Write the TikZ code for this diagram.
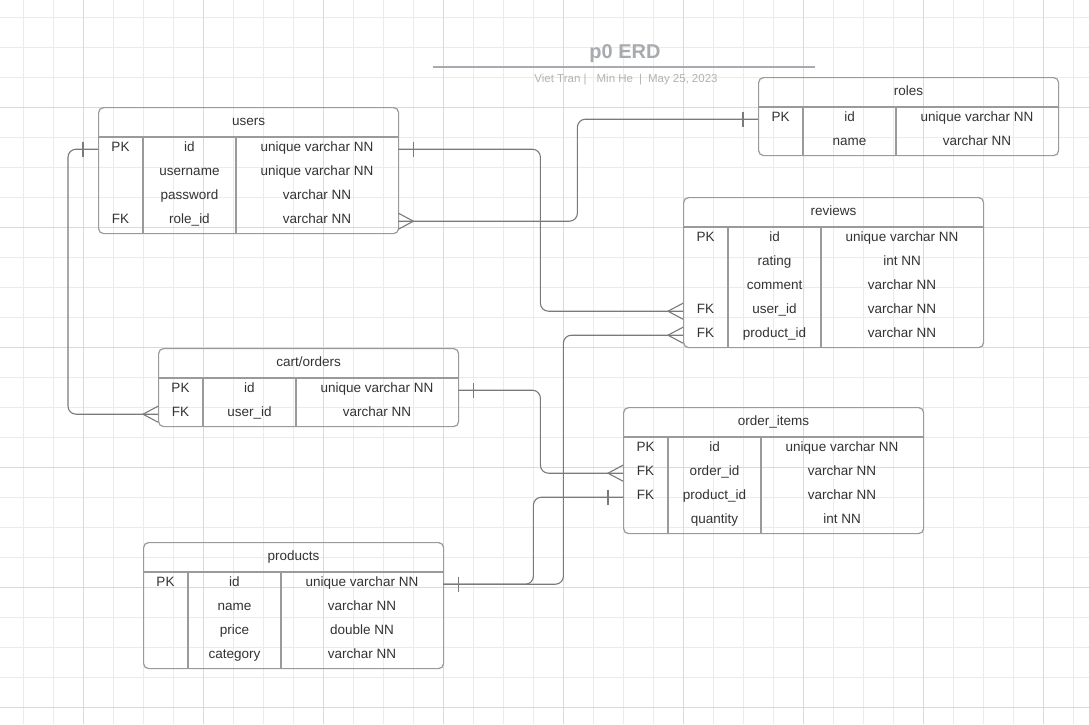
\documentclass[tikz,border=0pt]{standalone}
\usepackage{fontspec}
\setmainfont{Liberation Sans}
\usetikzlibrary{calc}

\definecolor{gridminor}{HTML}{EBEBEB}
\definecolor{gridmajor}{HTML}{DADADA}
\definecolor{tblline}{HTML}{9A9A9A}
\definecolor{relline}{HTML}{7A7A7A}
\definecolor{txt}{HTML}{333333}
\definecolor{titlegray}{HTML}{A7AAAE}
\definecolor{subgray}{HTML}{B3B3B3}

\tikzset{
  tablebox/.style={draw=tblline, line width=1.2pt, rounded corners=5pt,
    minimum width=300pt, inner sep=0pt, anchor=north west},
  tblsep/.style={draw=tblline, line width=1.2pt},
  rowbox/.style={minimum width=300pt, minimum height=24pt, inner sep=0pt,
    anchor=north west},
  celltext/.style={font=\fontsize{13.5}{16}\selectfont, text=txt, inner sep=0pt,
    text height=9.7pt, text depth=2.8pt},
  rel/.style={draw=relline, line width=1.1pt, rounded corners=8pt},
  relmark/.style={draw=relline, line width=1.1pt},
}

% table frame: name, left, top, title, number of rows
\newcommand\erdtable[5]{%
  \node[tablebox, minimum height={30+24*#5}] (#1) at (#2,#3) {};
  \node[celltext] (#1-title) at ([yshift=-15pt]#1.north) {#4};
  \draw[tblsep] ([yshift=-30pt]#1.north west) -- ([yshift=-30pt]#1.north east);
  \draw[tblsep] ([xshift=45pt,yshift=-30pt]#1.north west) -- ([xshift=45pt]#1.south west);
  \draw[tblsep] ([xshift=138pt,yshift=-30pt]#1.north west) -- ([xshift=138pt]#1.south west);
}
% table row: table, index, key, field, type
\newcommand\erdrow[5]{%
  \node[rowbox] (#1-#2) at ([yshift={-30-24*(#2-1)}]#1.north west) {};
  \node[celltext] (#1-#2-k) at ([xshift=22.5pt,yshift=0.7pt]#1-#2.west) {#3};
  \node[celltext] (#1-#2-f) at ([xshift=91.5pt,yshift=0.7pt]#1-#2.west) {#4};
  \node[celltext] (#1-#2-t) at ([xshift=219pt,yshift=0.7pt]#1-#2.west) {#5};
}
% "many" end: anchor, offset of the apex
\newcommand\crowfoot[2]{%
  \draw[relmark] ([yshift=8pt]#1) -- ([xshift=#2]#1) -- ([yshift=-8pt]#1);
}
% "one" end: anchor, offset of the bar
\newcommand\onebar[2]{%
  \draw[relmark] ([xshift=#2,yshift=7.5pt]#1) -- ([xshift=#2,yshift=-7.5pt]#1);
}

\begin{document}
\begin{tikzpicture}[x=1pt,y=-1pt]
  \useasboundingbox (0,0) rectangle (1089,724);
  \fill[white] (0,0) rectangle (1089,724);

  % background grid
  \foreach \x in {23,53,...,1073} \draw[gridminor, line width=0.8pt] (\x,0) -- (\x,724);
  \foreach \y in {17,47,...,707} \draw[gridminor, line width=0.8pt] (0,\y) -- (1089,\y);
  \foreach \x in {83,203,...,1043} \draw[gridmajor, line width=0.8pt] (\x,0) -- (\x,724);
  \foreach \y in {107,227,...,707} \draw[gridmajor, line width=0.8pt] (0,\y) -- (1089,\y);

  % title block
  \node[font=\bfseries\fontsize{20}{24}\selectfont, text=titlegray, inner sep=0pt] (title) at (625,54) {p0 ERD};
  \coordinate (rule-l) at (433,67);
  \coordinate (rule-r) at (815,67);
  \draw[titlegray, line width=1.5pt] (rule-l) -- (rule-r);
  \node[font=\fontsize{11.5}{13}\selectfont, text=subgray, inner sep=0pt] (subtitle) at (626,80)
    {Viet Tran |\hspace{10pt}Min He\hspace{6pt}|\hspace{6pt}May 25,\hspace{3pt}2023};

  % tables
  \erdtable{users}{98}{107}{users}{4}
  \erdrow{users}{1}{PK}{id}{unique varchar NN}
  \erdrow{users}{2}{}{username}{unique varchar NN}
  \erdrow{users}{3}{}{password}{varchar NN}
  \erdrow{users}{4}{FK}{role\_id}{varchar NN}

  \erdtable{roles}{758}{77}{roles}{2}
  \erdrow{roles}{1}{PK}{id}{unique varchar NN}
  \erdrow{roles}{2}{}{name}{varchar NN}

  \erdtable{reviews}{683}{197}{reviews}{5}
  \erdrow{reviews}{1}{PK}{id}{unique varchar NN}
  \erdrow{reviews}{2}{}{rating}{int NN}
  \erdrow{reviews}{3}{}{comment}{varchar NN}
  \erdrow{reviews}{4}{FK}{user\_id}{varchar NN}
  \erdrow{reviews}{5}{FK}{product\_id}{varchar NN}

  \erdtable{cart}{158}{348}{cart/orders}{2}
  \erdrow{cart}{1}{PK}{id}{unique varchar NN}
  \erdrow{cart}{2}{FK}{user\_id}{varchar NN}

  \erdtable{items}{623}{407}{order\_items}{4}
  \erdrow{items}{1}{PK}{id}{unique varchar NN}
  \erdrow{items}{2}{FK}{order\_id}{varchar NN}
  \erdrow{items}{3}{FK}{product\_id}{varchar NN}
  \erdrow{items}{4}{}{quantity}{int NN}

  \erdtable{products}{143}{542}{products}{4}
  \erdrow{products}{1}{PK}{id}{unique varchar NN}
  \erdrow{products}{2}{}{name}{varchar NN}
  \erdrow{products}{3}{}{price}{double NN}
  \erdrow{products}{4}{}{category}{varchar NN}

  % relationships
  \draw[rel] (users-1.east) -- ++(142,0) |- (reviews-4.west);
  \onebar{users-1.east}{15pt}
  \crowfoot{reviews-4.west}{-15pt}

  \draw[rel] (users-4.east) -- ++(179,0) |- (roles-1.west);
  \crowfoot{users-4.east}{15pt}
  \onebar{roles-1.west}{-15pt}

  \draw[rel] (users-1.west) -- ++(-30,0) |- (cart-2.west);
  \onebar{users-1.west}{-15pt}
  \crowfoot{cart-2.west}{-15pt}

  \draw[rel] (cart-1.east) -- ++(82,0) |- (items-2.west);
  \onebar{cart-1.east}{15pt}
  \crowfoot{items-2.west}{-15pt}

  \draw[rel] (products-1.east) -- ++(120,0) |- (reviews-5.west);
  \draw[rel] (products-1.east) -- ++(90,0) |- (items-3.west);
  \onebar{products-1.east}{15pt}
  \crowfoot{reviews-5.west}{-15pt}
  \onebar{items-3.west}{-15pt}
\end{tikzpicture}
\end{document}
